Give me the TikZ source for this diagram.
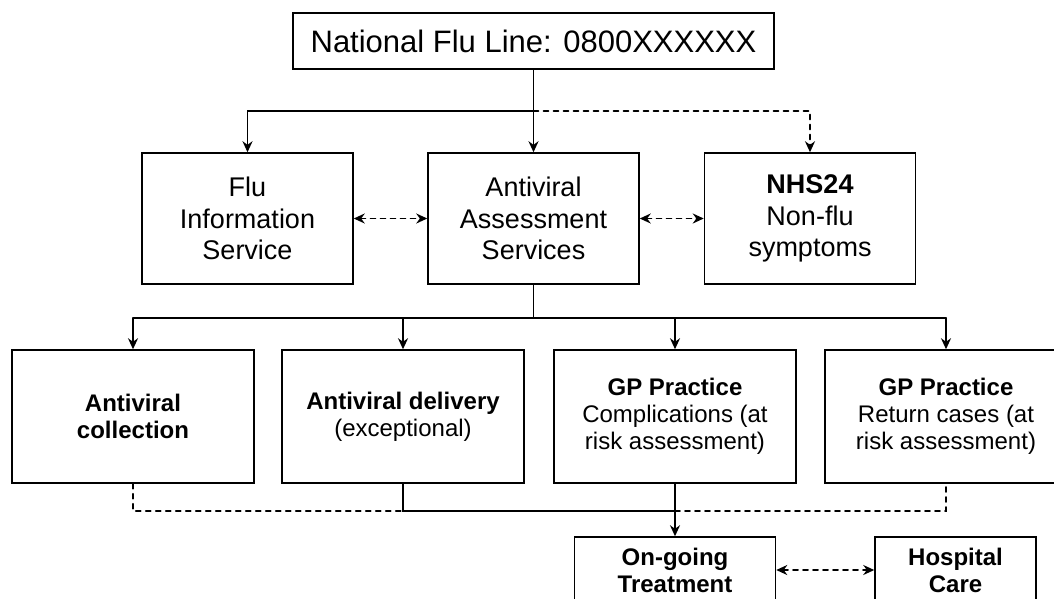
\documentclass[tikz,border=0pt]{standalone}
\usepackage{fontspec}
\setmainfont{Liberation Sans}
\usetikzlibrary{arrows.meta}

\begin{document}
\begin{tikzpicture}[%
        x = 1pt,
        y = -1pt,
        line cap = round,
        > = {Stealth[length=11pt, width=10pt]},
        box/.style = {draw, line width=1.5pt, align=center, inner sep=0pt},
        wire/.style = {line width=1.8pt},
        link/.style = {line width=1.8pt, dash pattern=on 5pt off 5pt},
        big/.style = {font=\fontsize{31}{36}\selectfont},
        mid/.style = {font=\fontsize{27}{31.5}\selectfont},
        low/.style = {font=\fontsize{24}{27}\selectfont}
    ]

        % Fix the page to the size of the picture.
        \useasboundingbox (0, 0) rectangle (1054, 598);
        \clip (0, 0) rectangle (1054, 598);

        % The phone line at the top.
        \node[box, big, minimum width=481pt, minimum height=56pt]
            (FluLine) at (533.5, 41) {National Flu Line: 0800XXXXXX};

        % Row of the three services.
        \node[box, mid, minimum width=211pt, minimum height=131pt]
            (FluInfo) at (247.5, 218.5) {Flu\\Information\\Service};
        \node[box, mid, minimum width=211pt, minimum height=131pt]
            (Assess) at (533.5, 218.5) {Antiviral\\Assessment\\Services};
        \node[box, mid, minimum width=211pt, minimum height=131pt]
            (NHS) at (810, 218.5) {\bfseries NHS24\\Non-flu\\symptoms};

        % Row of the four outcomes.
        \node[box, low, minimum width=242pt, minimum height=133pt]
            (Collect) at (133, 416.5) {\bfseries Antiviral\\\bfseries collection};
        \node[box, low, minimum width=242pt, minimum height=133pt]
            (Deliver) at (403, 416.5) {\bfseries Antiviral delivery\\(exceptional)};
        \node[box, low, minimum width=242pt, minimum height=133pt]
            (GPComp) at (675, 416.5) {\bfseries GP Practice\\Complications (at\\risk assessment)};
        \node[box, low, minimum width=242pt, minimum height=133pt]
            (GPReturn) at (946, 416.5) {\bfseries GP Practice\\Return cases (at\\risk assessment)};

        % Treatment boxes at the bottom, cut by the page edge.
        \node[box, low, minimum width=201pt, minimum height=66pt]
            (Ongoing) at (675, 570) {\bfseries On-going\\\bfseries Treatment};
        \node[box, low, minimum width=161pt, minimum height=66pt]
            (Hospital) at (955.5, 570) {\bfseries Hospital\\\bfseries Care};

        % Branch points of the connectors.
        \coordinate (T) at (533.5, 111);
        \coordinate (J) at (533.5, 318);
        \coordinate (K) at (675, 511);

        % From the phone line to the services.
        \draw[wire] (FluLine.south) -- (T);
        \draw[wire, ->] (T) -| (FluInfo.north);
        \draw[wire, ->] (T) -- (Assess.north);
        \draw[link, ->] (T) -| (NHS.north);
        \draw[link, <->] (FluInfo.east) -- (Assess.west);
        \draw[link, <->] (Assess.east) -- (NHS.west);

        % From the assessment to the outcomes.
        \draw[wire] (Assess.south) -- (J);
        \draw[wire] (J -| Collect) -- (J -| GPReturn);
        \foreach \n in {Collect, Deliver, GPComp, GPReturn}
            \draw[wire, ->] (J -| \n) -- (\n.north);

        % From the outcomes to the treatment.
        \draw[link] (Collect.south) -- (K -| Collect) -- (K -| Deliver);
        \draw[wire] (Deliver.south) -- (K -| Deliver) -- (K);
        \draw[link] (K) -- (K -| GPReturn) -- (GPReturn.south);
        \draw[wire, ->] (GPComp.south) -- (Ongoing.north);
        \draw[link, <->] (Ongoing.east) -- (Hospital.west);
    \end{tikzpicture}
\end{document}
